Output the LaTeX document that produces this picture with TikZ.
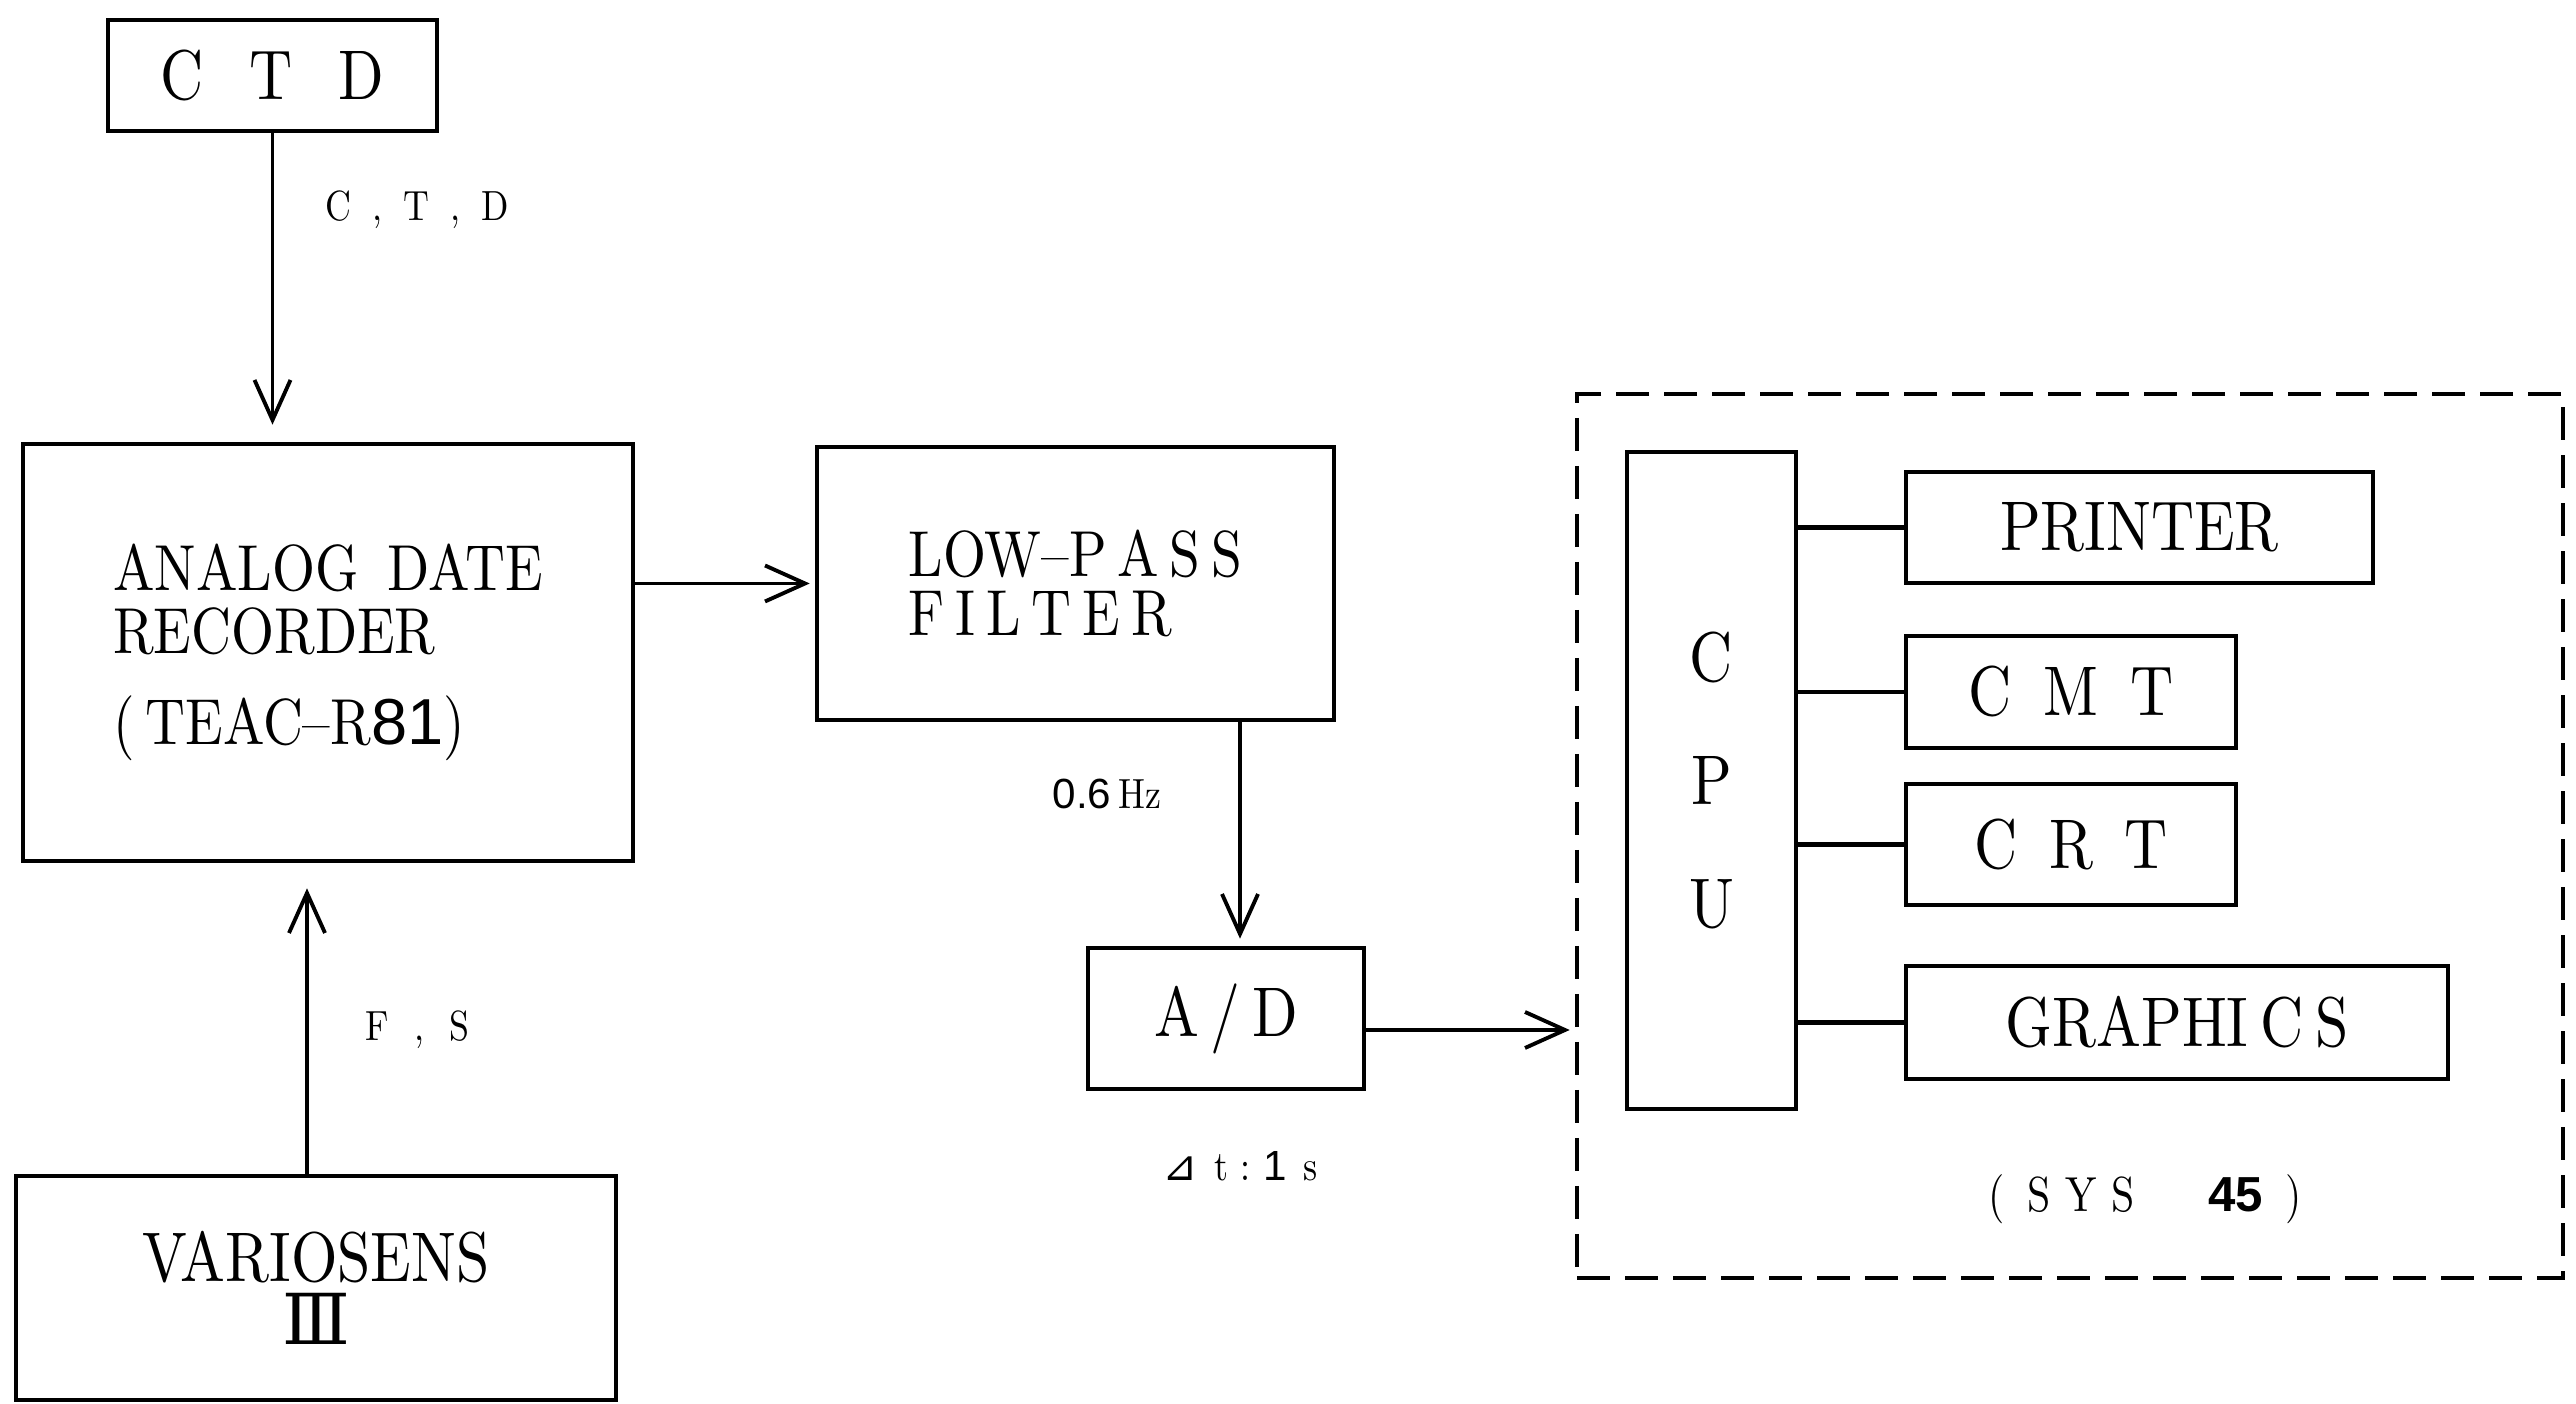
\documentclass[tikz,border=0pt]{standalone}
\usepackage{fontspec}
\setmainfont{lmroman10-regular.otf}[FakeStretch=0.85,BoldFont=lmroman10-bold.otf]
\newfontfamily\numfont{DejaVu Serif}
\newfontfamily\symfont{DejaVu Sans}
\newfontfamily\digfont{Liberation Sans}
\usetikzlibrary{arrows.meta}
\usetikzlibrary{positioning}

\begin{document}
\begin{tikzpicture}[
  blk/.style={draw,line width=1.3pt,inner sep=0pt,font=\fontsize{20}{24}\selectfont},
  arr/.style={line width=1.1pt,-{Straight Barb[length=4mm,width=3.6mm]}},
  link/.style={line width=1.3pt},
  lbl/.style={inner sep=0pt,font=\fontsize{12}{14}\selectfont}]
\useasboundingbox (0,0) rectangle (25.76,14.04);

\node[blk,minimum width=3.29cm,minimum height=1.11cm] (CTD) at (2.725,13.285) {C\hspace{0.65em}T\hspace{0.65em}D};
\node[blk,minimum width=6.10cm,minimum height=4.17cm,align=left,font=\fontsize{18.5}{18pt}\selectfont] (ADR) at (3.28,7.515) {ANALOG\hspace{0.45em}DATE\\RECORDER\\[8pt](\,TEAC--R{\digfont 81})};
\node[blk,minimum width=5.17cm,minimum height=2.73cm,align=left,font=\fontsize{18.5}{17pt}\selectfont] (LPF) at (10.755,8.205) {LOW--P\,A\,S\,S\\F\,I\,L\,T\,E\,R};
\node[blk,minimum width=2.76cm,minimum height=1.41cm] (AD) at (12.26,3.855) {A\,/\,D};
\node[blk,minimum width=6.00cm,minimum height=2.24cm,align=center,font=\fontsize{20}{18pt}\selectfont] (VAR) at (3.16,1.16) {VARIOSENS\\{\numfont Ⅲ}};

\node[draw,line width=1.3pt,dash pattern=on 3.3mm off 1.5mm,minimum width=9.86cm,minimum height=8.84cm] (SYS) at (20.70,5.68) {};
\node[blk,minimum width=1.69cm,minimum height=6.57cm,align=center,font=\fontsize{20}{35pt}\selectfont] (CPU) at (17.115,6.235) {C\\P\\U};
\node[blk,minimum width=4.67cm,minimum height=1.11cm] (PRT) at (21.395,8.765) {PRINTER};
\node[blk,minimum width=3.30cm,minimum height=1.12cm] (CMT) at (20.71,7.12) {C\hspace{0.45em}M\hspace{0.45em}T};
\node[blk,minimum width=3.30cm,minimum height=1.21cm] (CRT) at (20.71,5.595) {C\hspace{0.45em}R\hspace{0.45em}T};
\node[blk,minimum width=5.42cm,minimum height=1.13cm] (GRA) at (21.77,3.815) {GRAPHI\,C\,S};

\draw[link] (CPU.east |- PRT.west) -- (PRT.west);
\draw[link] (CPU.east |- CMT.west) -- (CMT.west);
\draw[link] (CPU.east |- CRT.west) -- (CRT.west);
\draw[link] (CPU.east |- GRA.west) -- (GRA.west);

\draw[arr,shorten >=1.7mm] (CTD.south) -- (CTD.south |- ADR.north);
\draw[arr,shorten >=0.5mm] (ADR.east |- LPF.west) -- (LPF.west);
\draw[arr,shorten >=0.7mm] ([xshift=1.4mm]AD.north |- LPF.south) -- ([xshift=1.4mm]AD.north);
\draw[arr,shorten >=0.5mm] ([yshift=-1.15mm]AD.east) -- ([yshift=-1.15mm]AD.east -| SYS.west);
\draw[arr,shorten >=2.5mm] ([xshift=-0.9mm]VAR.north) -- ([xshift=-0.9mm]VAR.north |- ADR.south);

\node[lbl,anchor=west] (lctd) at (3.25,11.94) {C\hspace{0.5em},\hspace{0.5em}T\hspace{0.5em},\hspace{0.5em}D};
\node[lbl,anchor=west] (lfs) at (3.65,3.74) {F\hspace{0.6em},\hspace{0.6em}S};
\node[lbl] (lhz) at (11.07,6.10) {{\digfont 0.6}\,Hz};
\node[lbl,below=0.6cm of AD,xshift=1.4mm] (ldt) {{\symfont ⊿}\hspace{0.4em}t\hspace{0.3em}:\hspace{0.3em}{\digfont 1}\hspace{0.4em}s};
\node[lbl,font=\fontsize{14}{16}\selectfont] (lsys) at (21.45,2.05) {(\hspace{0.45em}S\hspace{0.3em}Y\hspace{0.3em}S\hspace{1.5em}{\digfont\bfseries 45}\hspace{0.45em})};

\end{tikzpicture}
\end{document}
